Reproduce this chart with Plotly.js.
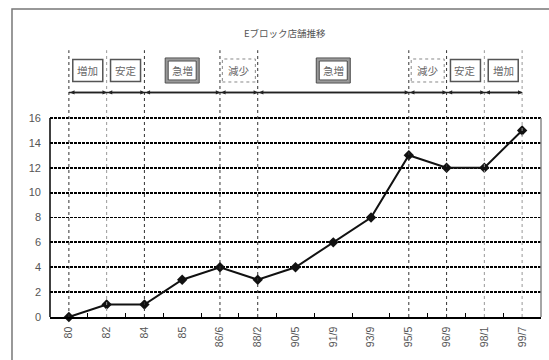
<!DOCTYPE html>
<html>
<head>
<meta charset="utf-8">
<script src="https://cdn.plot.ly/plotly-3.0.1.min.js"></script>
<style>html,body{margin:0;padding:0;background:#fff;}#chart{width:549px;height:360px;}</style>
</head>
<body>
<div id="chart"></div>
<script>
// ---- data ----
const categories = ['80','82','84','85','86/6','88/2','90/5','91/9','93/9','95/5','96/9','98/1','99/7'];
const stores = [0, 1, 1, 3, 4, 3, 4, 6, 8, 13, 12, 12, 15];
const yTicks = [0, 2, 4, 6, 8, 10, 12, 14, 16];
const phaseBounds = ['80','82','84','86/6','88/2','95/5','96/9','98/1','99/7'];
const phaseLabels = ['増加','安定','急増','減少','急増','減少','安定','増加'];
const phaseKinds = ['solid','solid','double','dotted','double','dotted','solid','solid'];
const lightBounds = ['82','98/1','99/7'];
const chartTitle = 'Eブロック店舗推移';

// ---- layout helpers ----
const yTop = 22.03, lineTop = 21.45, arrowY = 18.06, boxY = 19.82;
const cjk = '"Noto Sans CJK JP", "Noto Sans", sans-serif';
const idx = c => categories.indexOf(c);

const shapes = [];
const annotations = [];

// outer frame
shapes.push({type:'rect', xref:'paper', yref:'paper', x0:-0.0774, x1:1.1, y0:-0.3, y1:1.124,
  line:{color:'#777', width:1.5}, layer:'below'});
// left axis line and right border of plot area
shapes.push({type:'line', xref:'paper', yref:'y', x0:0, x1:0, y0:0, y1:16, line:{color:'#000', width:1.5}});
shapes.push({type:'line', xref:'paper', yref:'y', x0:1, x1:1, y0:0, y1:16, line:{color:'#888', width:1.5}});

// vertical dotted phase lines
phaseBounds.forEach(b => {
  const i = idx(b);
  shapes.push({type:'line', xref:'x', yref:'y', x0:i, x1:i, y0:0, y1:lineTop,
    line:{color: lightBounds.includes(b) ? '#999' : '#333', width:1, dash:'dot'}});
});

// continuous arrow line
shapes.push({type:'line', xref:'x', yref:'y', x0:idx(phaseBounds[0]), x1:idx(phaseBounds[phaseBounds.length-1]),
  y0:arrowY, y1:arrowY, line:{color:'#222', width:1.5}});

// phase arrows, boxes, labels
for (let k = 0; k < phaseLabels.length; k++) {
  const a = idx(phaseBounds[k]), b = idx(phaseBounds[k+1]);
  const mid = (a + b) / 2;
  annotations.push({x:b, y:arrowY, ax:a, ay:arrowY, xref:'x', yref:'y', axref:'x', ayref:'y',
    text:'', showarrow:true, arrowside:'end+start', arrowhead:2, arrowsize:0.55, arrowwidth:1.5, arrowcolor:'#222'});
  const base = {type:'rect', xref:'x', yref:'y', xsizemode:'pixel', ysizemode:'pixel', xanchor:mid, yanchor:boxY};
  const kind = phaseKinds[k];
  if (kind === 'solid') {
    shapes.push(Object.assign({}, base, {x0:-15, x1:15, y0:-11, y1:11, fillcolor:'#fff', line:{color:'#555', width:1.5}}));
  } else if (kind === 'dotted') {
    shapes.push(Object.assign({}, base, {x0:-16.5, x1:16.5, y0:-11.5, y1:11.5, fillcolor:'#fff', line:{color:'#888', width:1, dash:'dot'}}));
  } else {
    shapes.push(Object.assign({}, base, {x0:-15.5, x1:15.5, y0:-11, y1:11, fillcolor:'#fff', line:{color:'#999', width:2.5}}));
    shapes.push(Object.assign({}, base, {x0:-17, x1:17, y0:-12.5, y1:12.5, line:{color:'#444', width:1}}));
    shapes.push(Object.assign({}, base, {x0:-14, x1:14, y0:-9.5, y1:9.5, line:{color:'#444', width:1}}));
  }
  annotations.push({x:mid, y:boxY, xref:'x', yref:'y', text:phaseLabels[k], showarrow:false,
    font:{family:cjk, size:10.5, color:'#666'}, xanchor:'center', yanchor:'middle'});
}

// title
annotations.push({xref:'paper', yref:'paper', x:0.4786, y:1.0365, text:chartTitle, showarrow:false,
  xanchor:'center', yanchor:'middle', font:{family:cjk, size:9.5, color:'#555'}});

const trace = {
  type:'scatter', mode:'lines+markers', x:categories, y:stores,
  line:{color:'#111', width:2},
  marker:{symbol:'diamond', size:8, color:'#111'},
  cliponaxis:false, hoverinfo:'skip'
};

const tickFont = {family:'"Liberation Sans", Arial, sans-serif', size:11, color:'#555'};

const layout = {
  width:549, height:360,
  margin:{l:50, r:8, t:43, b:43, pad:0},
  paper_bgcolor:'#fff', plot_bgcolor:'#fff',
  font:{family:'"Liberation Sans", Arial, sans-serif', color:'#555'},
  showlegend:false,
  xaxis:{type:'category', categoryorder:'array', categoryarray:categories, range:[-0.5, 12.5],
    showline:true, linecolor:'#000', linewidth:1.5, showgrid:false, zeroline:false,
    ticks:'inside', ticklen:4, tickcolor:'#000', tickwidth:1, tickson:'boundaries',
    tickangle:-90, ticklabelstandoff:4, color:'#555',
    tickfont:Object.assign({}, tickFont, {size:10.5})},
  yaxis:{range:[0, yTop], tickvals:yTicks, ticktext:yTicks.map(String),
    showline:false, zeroline:false, ticks:'', color:'#555',
    showgrid:true, gridcolor:'#000', gridwidth:1.8, griddash:'2.5px,1.5px',
    ticklabelstandoff:8,
    tickfont:tickFont},
  shapes:shapes,
  annotations:annotations
};

Plotly.newPlot('chart', [trace], layout, {staticPlot:true, displayModeBar:false});
</script>
</body>
</html>
